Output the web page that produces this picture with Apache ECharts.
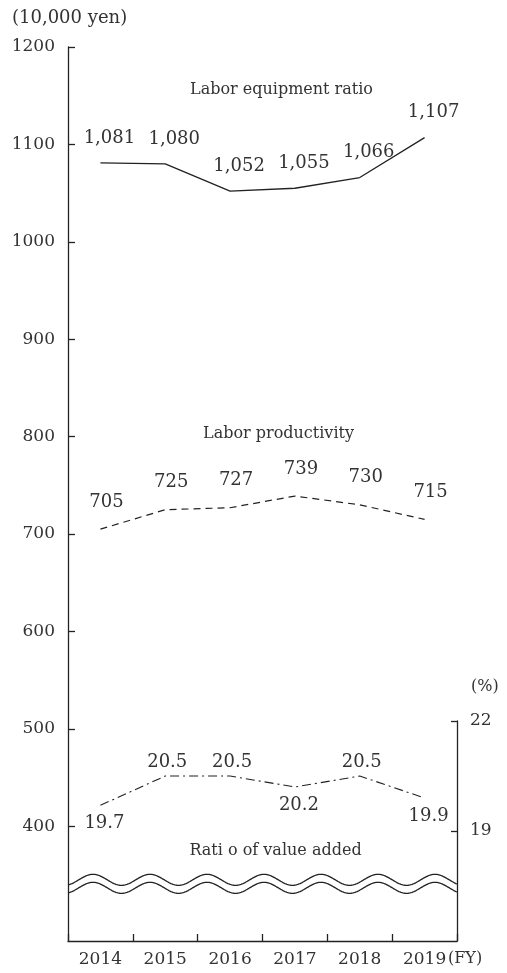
<!DOCTYPE html>
<html><head><meta charset="utf-8">
<script src="https://cdn.jsdelivr.net/npm/echarts@6/dist/echarts.min.js"></script>
<style>html,body{margin:0;padding:0;background:#fff}#c{width:507px;height:973px}</style>
</head><body><div id="c"></div>
<script>
var years = ['2014','2015','2016','2017','2018','2019'];
var equipmentRatio = [1081, 1080, 1052, 1055, 1066, 1107];
var laborProductivity = [705, 725, 727, 739, 730, 715];
var valueAddedRatio = [19.7, 20.5, 20.5, 20.2, 20.5, 19.9];
var leftTicks = [400, 500, 600, 700, 800, 900, 1000, 1100, 1200];
var rightTicks = [19, 22];

var FONT = 'DejaVu Serif';
var INK = '#222';
var TXT = '#333';
var GL = 68, GR = 50, GB = 32, GT0 = 47, GT1 = 721;

var chart = echarts.init(document.getElementById('c'));
function fmt(v){ return v.toLocaleString('en-US'); }
var lblBase = {show:true, color:TXT, fontFamily:FONT, fontSize:18};
var lineCommon = {symbol:'circle', symbolSize:0, showSymbol:true, itemStyle:{color:INK}};

chart.setOption({
  animation:false,
  backgroundColor:'#fff',
  grid:[
    {left:GL, right:GR, top:GT0, bottom:GB},
    {left:GL, right:GR, top:GT1, bottom:GB}
  ],
  xAxis:[
    {type:'category', gridIndex:0, data:years, boundaryGap:true,
     axisLine:{lineStyle:{color:INK,width:1.3}},
     axisTick:{show:true,inside:true,length:7,lineStyle:{color:INK,width:1.3}},
     axisLabel:{color:TXT,fontFamily:FONT,fontSize:17,margin:10}},
    {type:'category', gridIndex:1, data:years, boundaryGap:true, show:false}
  ],
  yAxis:[
    {type:'value', gridIndex:0, min:282.2, max:1200,
     name:'(10,000 yen)', nameLocation:'end', nameGap:20,
     nameTextStyle:{color:TXT,fontFamily:FONT,fontSize:18,align:'left',padding:[0,0,0,-56]},
     splitLine:{show:false},
     axisLine:{show:true,lineStyle:{color:INK,width:1.3}},
     axisTick:{show:true,inside:true,length:7,customValues:leftTicks,lineStyle:{color:INK,width:1.3}},
     axisLabel:{customValues:leftTicks,color:TXT,fontFamily:FONT,fontSize:17,margin:13,
       formatter:function(v){return String(v);}}},
    {type:'value', gridIndex:1, position:'right', min:16, max:22,
     name:'(%)', nameLocation:'end', nameGap:26,
     nameTextStyle:{color:TXT,fontFamily:FONT,fontSize:16,align:'left',padding:[0,0,0,14]},
     splitLine:{show:false},
     axisLine:{show:true,lineStyle:{color:INK,width:1.3}},
     axisTick:{show:true,inside:true,length:6,customValues:rightTicks,lineStyle:{color:INK,width:1.3}},
     axisLabel:{customValues:rightTicks,color:TXT,fontFamily:FONT,fontSize:17,margin:13}}
  ],
  series:[
    Object.assign({name:'Labor equipment ratio', type:'line', xAxisIndex:0, yAxisIndex:0,
     data:equipmentRatio, lineStyle:{color:INK,width:1.3},
     label:Object.assign({}, lblBase, {position:'top', distance:5, offset:[9,-11],
       formatter:function(p){return fmt(p.value);}})}, lineCommon),
    Object.assign({name:'Labor productivity', type:'line', xAxisIndex:0, yAxisIndex:0,
     data:laborProductivity, lineStyle:{color:INK,width:1.2,type:[7,5]},
     label:Object.assign({}, lblBase, {position:'top', distance:5, offset:[6,-13]})}, lineCommon),
    Object.assign({name:'Ratio of value added', type:'line', xAxisIndex:1, yAxisIndex:1,
     lineStyle:{color:INK,width:1.1,type:[9,4,2,4]},
     data:valueAddedRatio.map(function(v){
       var below = v < 20.5;
       return {value:v, label:Object.assign({}, lblBase, below
         ? {position:'bottom', distance:5, offset:[4,4]}
         : {position:'top', distance:5, offset:[2,0]})};
     })}, lineCommon)
  ]
});

// Decorative axis-break waves and series captions
var W = chart.getWidth();
var x0 = GL, x1 = W - GR;
var midY = chart.convertToPixel({yAxisIndex:0}, 345);
function wave(dy){
  var pts = [];
  for (var x = x0; x <= x1 + 0.01; x += 1) {
    pts.push([x, midY + dy - 5.5*Math.cos(2*Math.PI*(x-93)/57)]);
  }
  return {type:'polyline', shape:{points:pts}, style:{stroke:INK, lineWidth:1.3, fill:null}, z:10};
}
var capStyle = {fill:TXT, font:'16px "DejaVu Serif"', textAlign:'center', textVerticalAlign:'middle'};
var cx = (x0 + x1) / 2 + 19;
chart.setOption({graphic:[
  wave(0), wave(8),
  {type:'text', x:cx, y:chart.convertToPixel({yAxisIndex:0}, 1156), style:Object.assign({text:'Labor equipment ratio'}, capStyle)},
  {type:'text', x:cx - 3, y:chart.convertToPixel({yAxisIndex:0}, 803), style:Object.assign({text:'Labor productivity'}, capStyle)},
  {type:'text', x:cx - 6, y:chart.convertToPixel({yAxisIndex:0}, 375), style:Object.assign({text:'Rati o of value added'}, capStyle)},
  {type:'text', x:x1 - 9, y:959, style:{text:'(FY)', fill:TXT, font:'16px "DejaVu Serif"', textAlign:'left', textVerticalAlign:'middle'}}
]});
</script></body></html>
